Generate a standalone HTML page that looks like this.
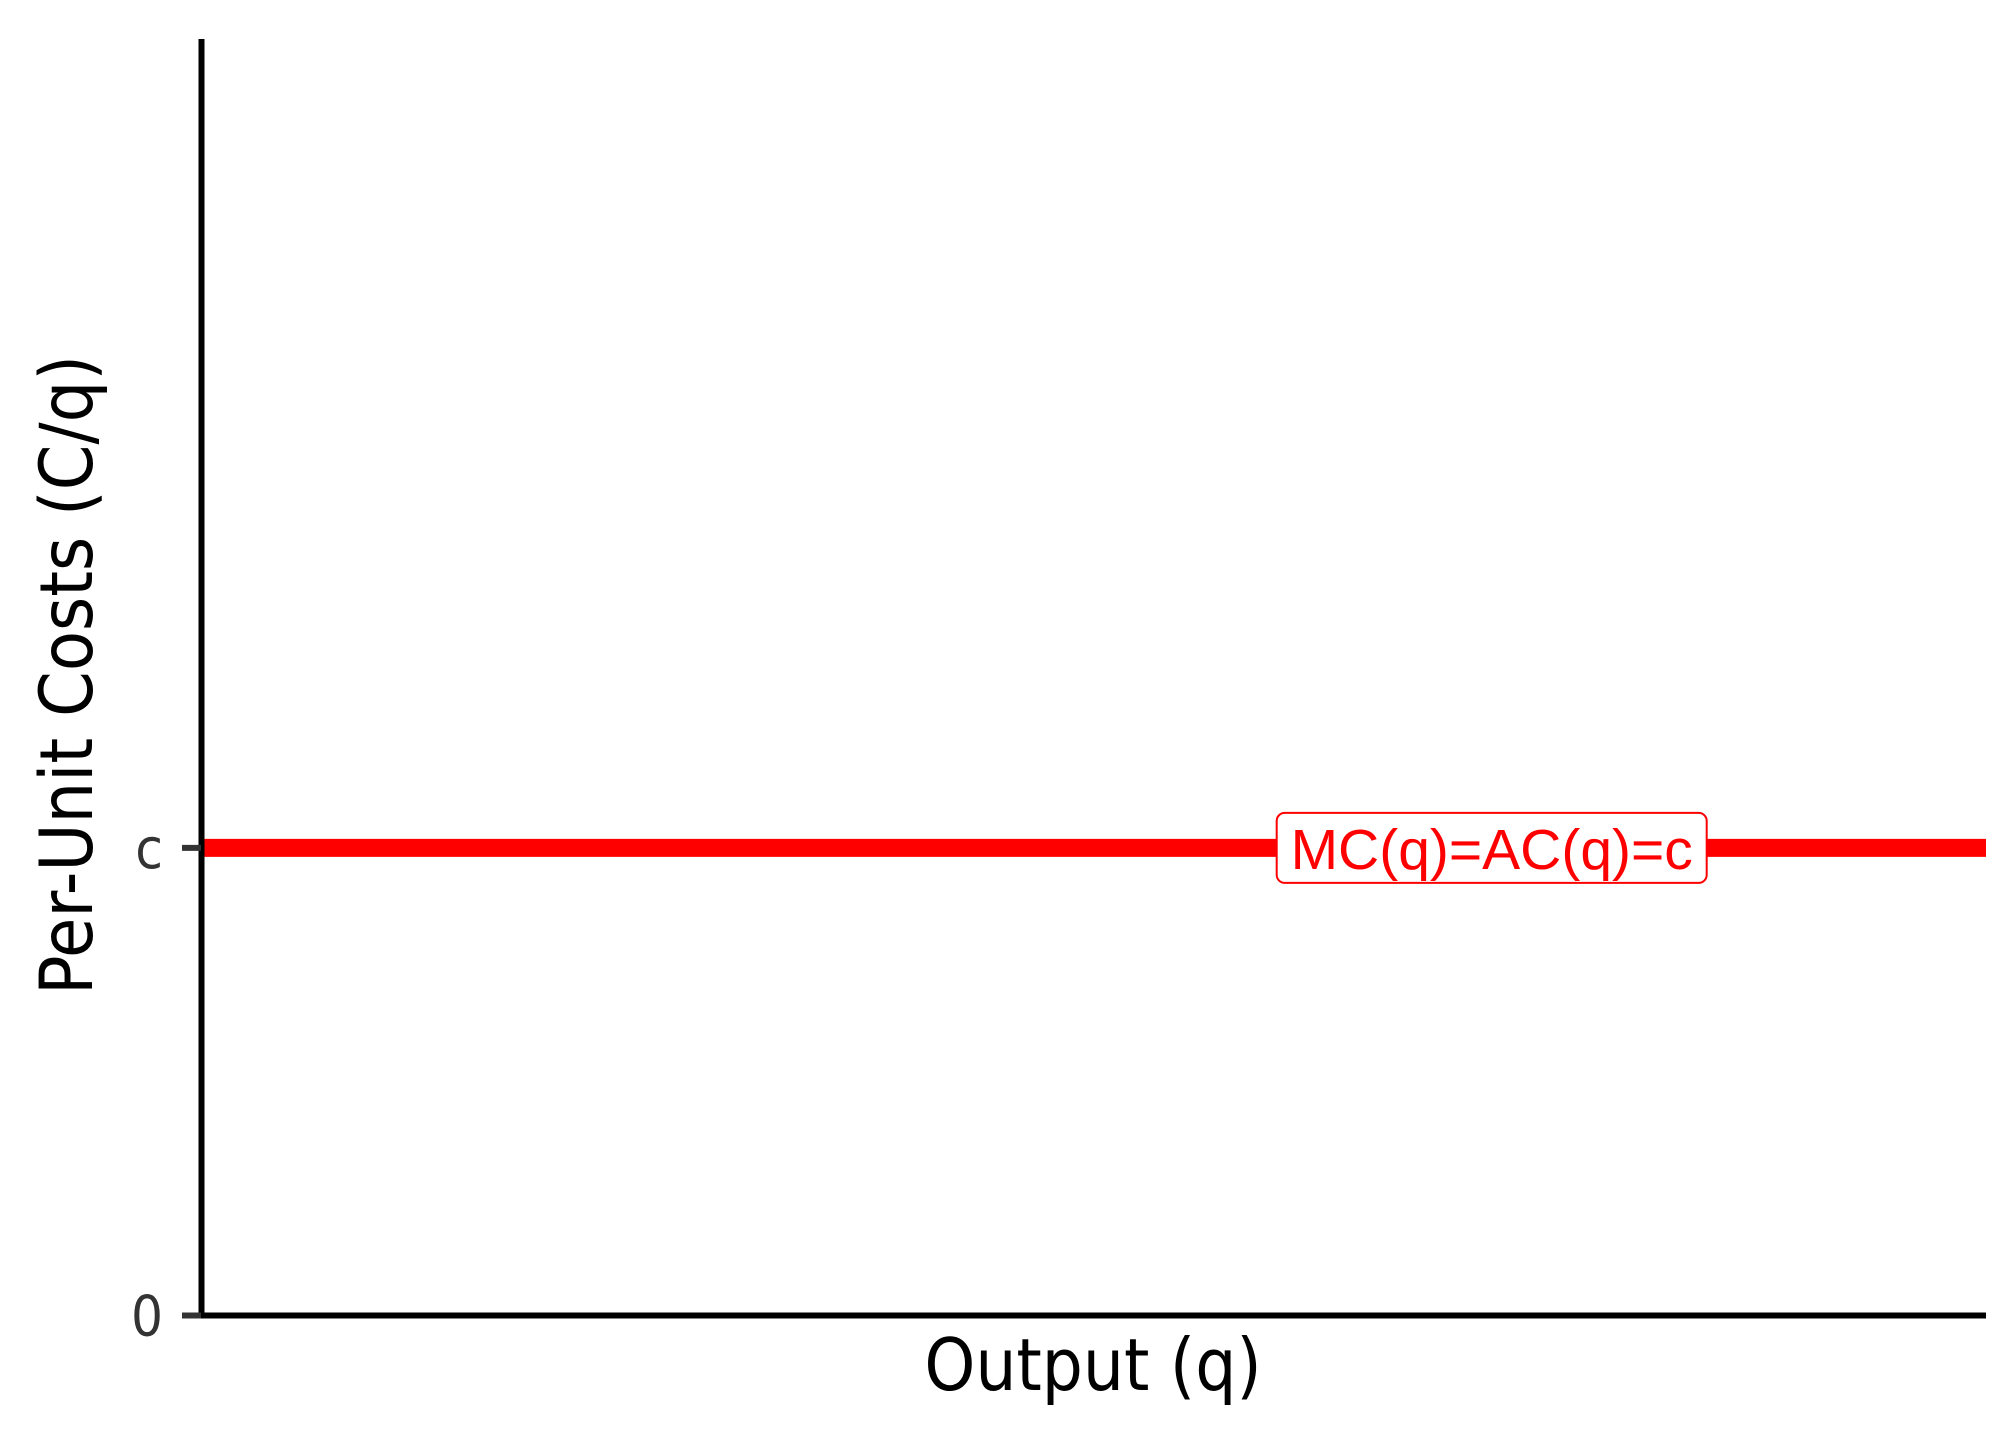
<!DOCTYPE html>
<html><head><meta charset="utf-8"><style>
html,body{margin:0;padding:0;background:#fff;}
svg{display:block;}
text{font-family:"Liberation Sans",sans-serif;}
</style></head><body>
<svg id="chart" width="2016" height="1440" viewBox="0 0 2016 1440" xmlns="http://www.w3.org/2000/svg">
<rect width="2016" height="1440" fill="#fff"/>
<g id="marks"></g>
<line x1="201.5" y1="39" x2="201.5" y2="1318" stroke="#000" stroke-width="6"/>
<line x1="199" y1="1315.5" x2="1986" y2="1315.5" stroke="#000" stroke-width="6"/>
<g id="ticks"></g>
<text x="1093" y="1390" font-size="72" text-anchor="middle" fill="#000" style="font-family:'DejaVu Sans Condensed','Liberation Sans',sans-serif">Output (q)</text>
<text transform="translate(92,675) rotate(-90)" font-size="73" text-anchor="middle" fill="#000" style="font-family:'DejaVu Sans Condensed','Liberation Sans',sans-serif">Per-Unit Costs (C/q)</text>
</svg>
<script>
const yTickLabels = ["0", "c"];
const yTickValues = [0, 1];
const costValues = [1, 1];
const outputValues = [0, 1];
const labelText = "MC(q)=AC(q)=c";
const labelPos = [0.723, 1];

const X0=201.5, X1=1986, Y0=1315.5, YTOP=39, YMAX=2.73;
const xs = v => X0 + v*(X1-X0);
const ys = v => Y0 - v/YMAX*(Y0-YTOP);
const NS="http://www.w3.org/2000/svg";
const marks=document.getElementById('marks');
const ticks=document.getElementById('ticks');

const line=document.createElementNS(NS,'line');


line.setAttribute('x1',xs(outputValues[0]));line.setAttribute('x2',xs(outputValues[1]));
line.setAttribute('y1',ys(costValues[0]));line.setAttribute('y2',ys(costValues[1]));
line.setAttribute('stroke','#ff0000');line.setAttribute('stroke-width','18');
marks.appendChild(line);

const cx=xs(labelPos[0]), cy=ys(labelPos[1]);
const box=document.createElementNS(NS,'rect');


box.setAttribute('x',cx-215);box.setAttribute('y',cy-35);
box.setAttribute('width',430);box.setAttribute('height',70);
box.setAttribute('rx',8);box.setAttribute('fill','#fff');box.setAttribute('stroke','#ff0000');box.setAttribute('stroke-width','2');
marks.appendChild(box);
const lt=document.createElementNS(NS,'text');


lt.setAttribute('x',cx);lt.setAttribute('y',cy+21);
lt.setAttribute('font-size','57');lt.setAttribute('text-anchor','middle');lt.setAttribute('fill','#ff0000');
lt.textContent=labelText;
marks.appendChild(lt);

yTickValues.forEach((v,i)=>{
  const t=document.createElementNS(NS,'line');
  
  
  t.setAttribute('x1',182);t.setAttribute('x2',201);t.setAttribute('y1',ys(v));t.setAttribute('y2',ys(v));
  t.setAttribute('stroke','#333');t.setAttribute('stroke-width','6');
  ticks.appendChild(t);
  const tx=document.createElementNS(NS,'text');
  
  
  tx.setAttribute('x',163);tx.setAttribute('y',ys(v)+20);
  tx.setAttribute('font-size','56');tx.setAttribute('text-anchor','end');tx.setAttribute('fill','#333');
  tx.setAttribute('style',"font-family:'DejaVu Sans Condensed','Liberation Sans',sans-serif");
  tx.textContent=yTickLabels[i];
  ticks.appendChild(tx);
});
</script>
</body></html>
